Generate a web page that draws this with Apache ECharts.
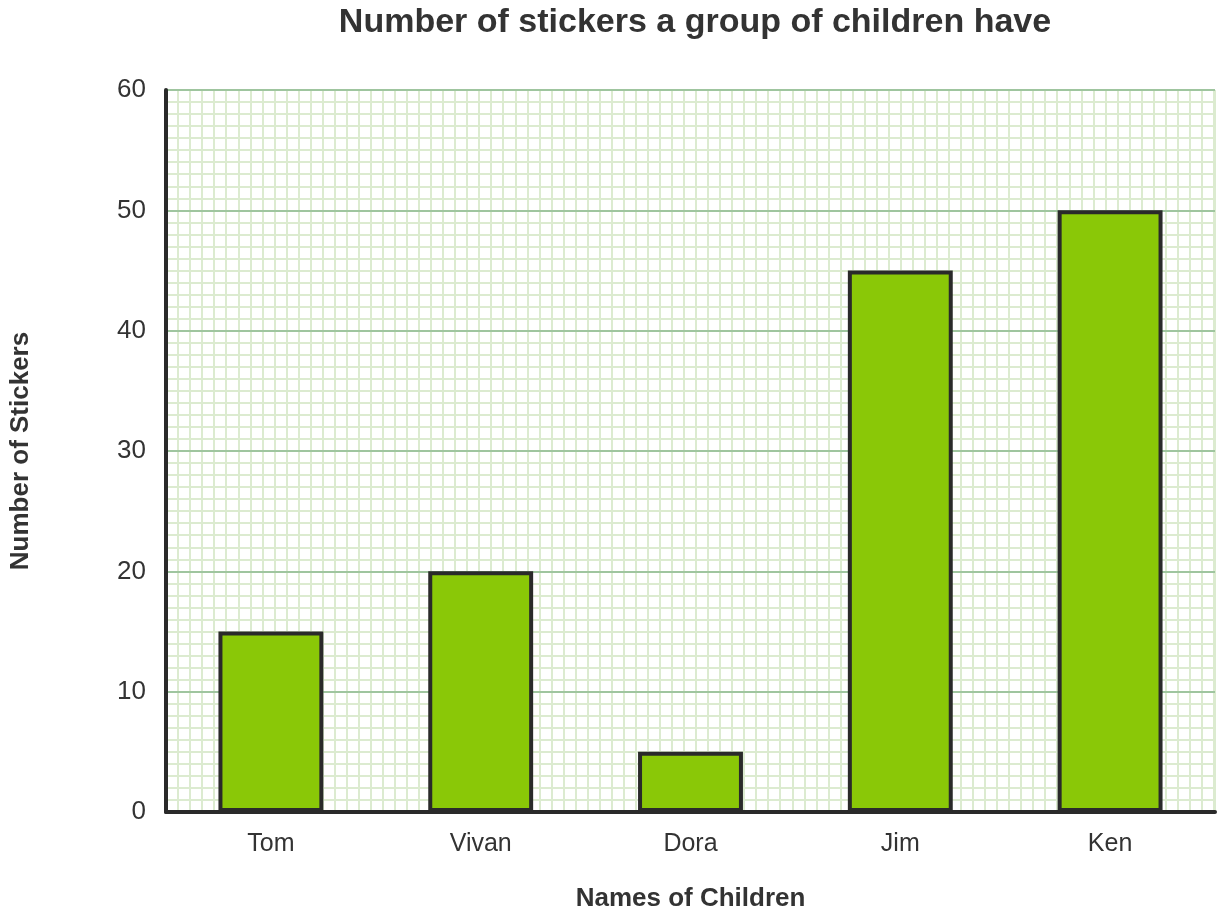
<!DOCTYPE html>
<html><head><meta charset="utf-8">
<script src="https://cdn.jsdelivr.net/npm/echarts@6/dist/echarts.min.js"></script>
<style>html,body{margin:0;padding:0;background:#fff}#c{width:1224px;height:917px}</style>
</head><body><div id="c"></div>
<script>
const categories = ['Tom', 'Vivan', 'Dora', 'Jim', 'Ken'];
const stickers = [15, 20, 5, 45, 50];
const yTicks = [0, 10, 20, 30, 40, 50, 60];

const FONT = 'Liberation Sans, Arial, sans-serif';
const chart = echarts.init(document.getElementById('c'));
chart.setOption({
  animation: false,
  title: {
    text: 'Number of stickers a group of children have',
    left: 690, textAlign: 'center', top: 1,
    textStyle: { fontFamily: FONT, fontSize: 34, fontWeight: 'bold', color: '#333' }
  },
  grid: { left: 163, right: 9, top: 90, bottom: 104 },
  xAxis: [{
    type: 'category', data: categories,
    name: 'Names of Children', nameLocation: 'middle', nameGap: 74,
    nameTextStyle: { fontFamily: FONT, fontSize: 26, fontWeight: 'bold', color: '#333' },
    axisLine: { show: true, lineStyle: { color: '#2a2a2a', width: 4 } },
    axisTick: { show: false },
    axisLabel: { fontFamily: FONT, fontSize: 25, color: '#333', margin: 20 },
    splitLine: { show: false }, z: 2
  }, {
    type: 'value', min: 0, max: 87.1, interval: 1, position: 'top',
    axisLine: { show: false }, axisTick: { show: false }, axisLabel: { show: false },
    splitLine: { show: true, lineStyle: { color: '#dcebd0', width: 2 } }, z: 0
  }],
  yAxis: {
    type: 'value', min: yTicks[0], max: yTicks[yTicks.length - 1], interval: 10,
    name: 'Number of Stickers', nameLocation: 'middle', nameGap: 132, nameRotate: 90,
    nameTextStyle: { fontFamily: FONT, fontSize: 26, fontWeight: 'bold', color: '#333' },
    axisLine: { show: true, lineStyle: { color: '#2a2a2a', width: 4 } },
    axisTick: { show: false },
    axisLabel: { fontFamily: FONT, fontSize: 26, color: '#333', margin: 20 },
    splitLine: { show: true, lineStyle: { color: '#9fc59f', width: 2 } },
    minorTick: { show: false, splitNumber: 10 },
    minorSplitLine: { show: true, lineStyle: { color: '#dcebd0', width: 2 } },
    z: 1
  },
  series: [{
    type: 'bar', data: stickers, xAxisIndex: 0, barWidth: '50%',
    itemStyle: { color: '#8ac807', borderColor: '#2a2a2a', borderWidth: 4 },
    z: 3
  }]
});
</script></body></html>
